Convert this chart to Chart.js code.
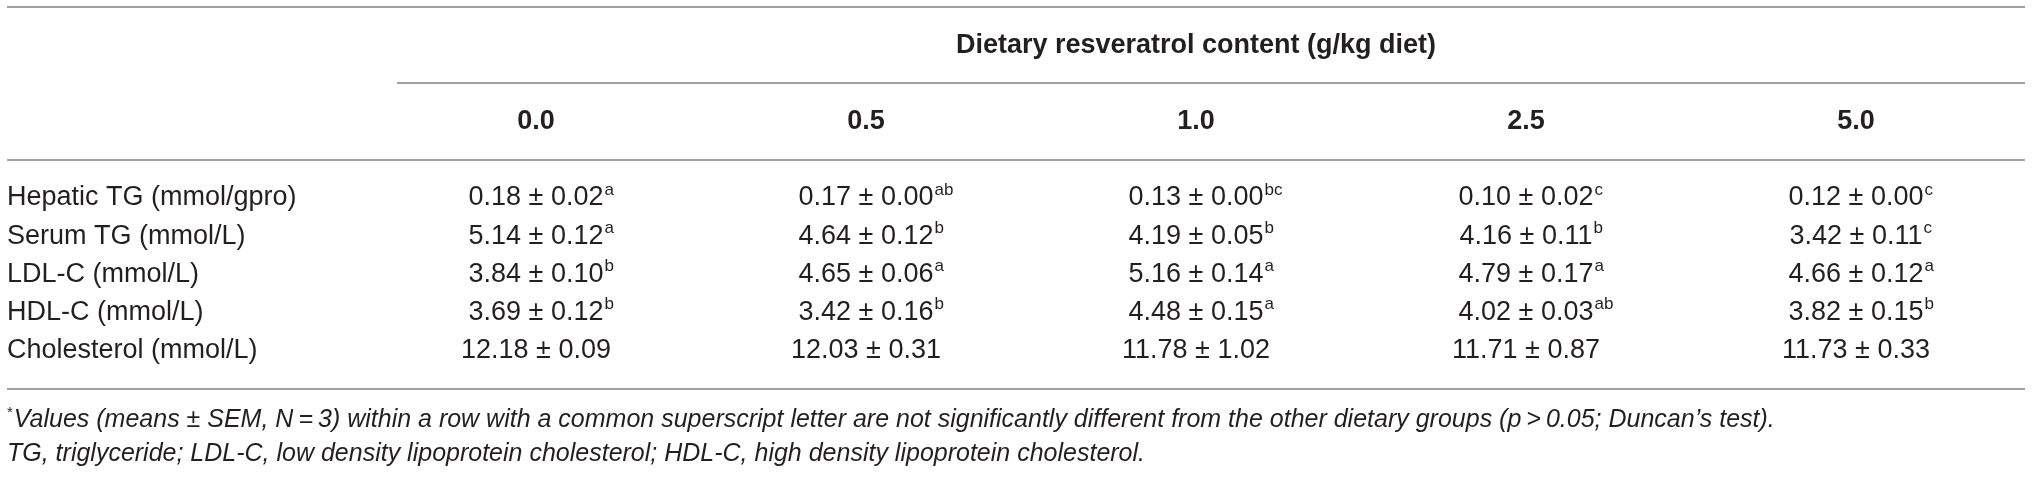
<!DOCTYPE html>
<html>
<head>
<meta charset="utf-8">
<script src="https://cdn.jsdelivr.net/npm/chart.js@4.4.1/dist/chart.umd.min.js"></script>
<style>
  html, body { margin: 0; padding: 0; background: #fff; }
  #wrap { width: 2032px; height: 477px; position: relative; }
</style>
</head>
<body>
<div id="wrap"><canvas id="table"></canvas></div>
<script>
// ─── Data ──────────────────────────────────

const doses     = ['0.0', '0.5', '1.0', '2.5', '5.0'];
const rowLabels = ['Hepatic TG (mmol/gpro)', 'Serum TG (mmol/L)', 'LDL-C (mmol/L)', 'HDL-C (mmol/L)', 'Cholesterol (mmol/L)'];

const hepaticTG       = [0.18, 0.17, 0.13, 0.10, 0.12];
const hepaticTGSem    = [0.02, 0.00, 0.00, 0.02, 0.00];
const hepaticTGSig    = ['a', 'ab', 'bc', 'c', 'c'];

const serumTG         = [5.14, 4.64, 4.19, 4.16, 3.42];
const serumTGSem      = [0.12, 0.12, 0.05, 0.11, 0.11];
const serumTGSig      = ['a', 'b', 'b', 'b', 'c'];

const ldlC            = [3.84, 4.65, 5.16, 4.79, 4.66];
const ldlCSem         = [0.10, 0.06, 0.14, 0.17, 0.12];
const ldlCSig         = ['b', 'a', 'a', 'a', 'a'];

const hdlC            = [3.69, 3.42, 4.48, 4.02, 3.82];
const hdlCSem         = [0.12, 0.16, 0.15, 0.03, 0.15];
const hdlCSig         = ['b', 'b', 'a', 'ab', 'b'];

const cholesterol     = [12.18, 12.03, 11.78, 11.71, 11.73];
const cholesterolSem  = [0.09, 0.31, 1.02, 0.87, 0.33];
const cholesterolSig  = ['', '', '', '', ''];

const headerTitle = 'Dietary resveratrol content (g/kg diet)';
const footnote1   = 'Values (means \u00b1 SEM, N\u2009=\u20093) within a row with a common superscript letter are not significantly different from the other dietary groups (p\u2009>\u20090.05; Duncan\u2019s test).';
const footnote2   = 'TG, triglyceride; LDL-C, low density lipoprotein cholesterol; HDL-C, high density lipoprotein cholesterol.';

const meanRows = [hepaticTG, serumTG, ldlC, hdlC, cholesterol];
const semRows  = [hepaticTGSem, serumTGSem, ldlCSem, hdlCSem, cholesterolSem];
const sigRows  = [hepaticTGSig, serumTGSig, ldlCSig, hdlCSig, cholesterolSig];

// one point per cell, placed by the category (x) and row (y) scales
const cells = [];
meanRows.forEach((row, r) => {
    row.forEach((mean, c) => {
        cells.push({ x: doses[c], y: r, mean, sem: semRows[r][c], sig: sigRows[r][c] });
    });
});

// ─── Drawing ───────────────────────────────

const FONT    = '"Liberation Sans", Arial, Helvetica, sans-serif';
const INK     = '#231f20';
const RULE    = '#a0a0a0';

const tablePlugin = {
    id: 'tableText',
    afterDatasetsDraw(chart) {
        const { ctx, scales: { x, y } } = chart;
        const left  = y.left;
        const right = x.right + 4;

        ctx.save();

        // rules
        ctx.strokeStyle = RULE;
        ctx.lineWidth = 2;
        const rule = (v, x0) => {
            const py = Math.round(y.getPixelForValue(v));
            ctx.beginPath();
            ctx.moveTo(x0, py);
            ctx.lineTo(right, py);
            ctx.stroke();
        };
        rule(-5, left);
        rule(-3, x.left + 26);
        rule(-1, left);
        rule(5, left);

        ctx.fillStyle = INK;
        ctx.textBaseline = 'middle';

        // spanning header
        ctx.font = `bold 27px ${FONT}`;
        ctx.textAlign = 'center';
        ctx.fillText(headerTitle, (x.left + x.right) / 2, y.getPixelForValue(-4));

        // column headers
        doses.forEach((d, i) => {
            ctx.fillText(d, x.getPixelForValue(i), y.getPixelForValue(-2));
        });

        // cells
        ctx.textAlign = 'left';
        const meta = chart.getDatasetMeta(0);
        meta.data.forEach((pt, i) => {
            const cell = chart.data.datasets[0].data[i];
            const main = `${cell.mean.toFixed(2)} \u00b1 ${cell.sem.toFixed(2)}`;
            ctx.font = `27px ${FONT}`;
            const w  = ctx.measureText(main).width;
            const x0 = pt.x - w / 2;
            ctx.fillText(main, x0, pt.y);
            if (cell.sig) {
                ctx.font = `17px ${FONT}`;
                ctx.fillText(cell.sig, x0 + w + 1, pt.y - 8);
            }
        });

        // footnotes
        ctx.font = `15px ${FONT}`;
        ctx.fillText('*', left, y.getPixelForValue(5.82) - 7);
        const starW = ctx.measureText('*').width;
        ctx.font = `italic 25px ${FONT}`;
        ctx.fillText(footnote1, left + starW + 1, y.getPixelForValue(5.82));
        ctx.fillText(footnote2, left, y.getPixelForValue(6.7));

        ctx.restore();
    }
};

new Chart(document.getElementById('table').getContext('2d'), {
    type: 'scatter',
    data: {
        datasets: [{
            data: cells,
            pointRadius: 0,
            pointHoverRadius: 0
        }]
    },
    options: {
        responsive: true,
        maintainAspectRatio: false,
        animation: false,
        events: [],
        layout: { padding: { left: 7, right: 11, top: 0, bottom: 0 } },
        plugins: { legend: { display: false }, tooltip: { enabled: false } },
        scales: {
            x: {
                type: 'category',
                labels: doses,
                offset: true,
                display: false
            },
            y: {
                type: 'linear',
                reverse: true,
                min: -5.183,
                max: 7.304,
                grid: { display: false },
                border: { display: false },
                afterBuildTicks: (scale) => {
                    scale.ticks = rowLabels.map((_, i) => ({ value: i }));
                },
                afterFit: (scale) => {
                    scale.width = 364;
                    scale.paddingTop = 0;
                    scale.paddingBottom = 0;
                },
                ticks: {
                    autoSkip: false,
                    crossAlign: 'far',
                    padding: 0,
                    color: INK,
                    font: { family: FONT, size: 27 },
                    callback: (value) => rowLabels[value]
                }
            }
        }
    },
    plugins: [tablePlugin]
});
</script>
</body>
</html>
